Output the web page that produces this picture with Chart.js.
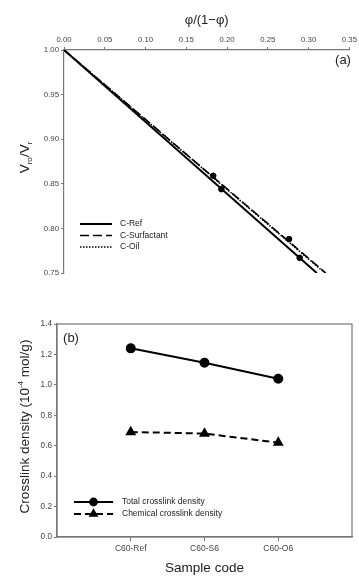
<!DOCTYPE html>
<html>
<head>
<meta charset="utf-8">
<script src="https://cdn.jsdelivr.net/npm/chart.js@4.4.1/dist/chart.umd.min.js"></script>
<style>
  html, body { margin: 0; padding: 0; background: #fff; }
  #wrap { position: relative; width: 359px; height: 578px; }
  .box { position: absolute; left: 0; width: 359px; }
  #topBox { top: 0; height: 290px; }
  #botBox { top: 290px; height: 288px; }
</style>
</head>
<body>
<div id="wrap">
  <div class="box" id="topBox"><canvas id="ratioChart"></canvas></div>
  <div class="box" id="botBox"><canvas id="densityChart"></canvas></div>
</div>
<script>
// --- (a) swelling ratio vs phi/(1-phi) ---
const xTicksA = [0.00, 0.05, 0.10, 0.15, 0.20, 0.25, 0.30, 0.35];
const yTicksA = [0.75, 0.80, 0.85, 0.90, 0.95, 1.00];

const refLineX = [0.000, 0.310];
const refLineY = [1.000, 0.750];
const surfLineX = [0.000, 0.321];
const surfLineY = [1.000, 0.750];
const oilLineX = [0.000, 0.320];
const oilLineY = [1.000, 0.750];

const refPtsX = [0.193, 0.289];
const refPtsY = [0.844, 0.767];
const surfPtsX = [0.183, 0.276];
const surfPtsY = [0.859, 0.788];

// --- (b) crosslink density ---
const samples = ['C60-Ref', 'C60-S6', 'C60-O6'];
const totalDensity = [1.24, 1.145, 1.04];
const chemicalDensity = [0.69, 0.68, 0.62];
const yTicksB = [0.0, 0.2, 0.4, 0.6, 0.8, 1.0, 1.2, 1.4];

const FONT = 'Liberation Sans, Arial, sans-serif';
const AXIS = '#777';
const TXT = '#444';

const pairs = (xs, ys) => xs.map((x, i) => ({ x: x, y: ys[i] }));

// draws a rotated title made of normal / sub / sup pieces
const drawRich = (ctx, parts, cx, cy, size) => {
    ctx.save();
    ctx.translate(cx, cy);
    ctx.rotate(-Math.PI / 2);
    ctx.fillStyle = '#222';
    ctx.textBaseline = 'middle';
    let total = 0;
    parts.forEach(p => {
        const s = p.mode ? size * 0.6 : size;
        ctx.font = s + 'px ' + FONT;
        total += ctx.measureText(p.t).width;
    });
    let x = -total / 2;
    parts.forEach(p => {
        const s = p.mode ? size * 0.6 : size;
        ctx.font = s + 'px ' + FONT;
        const dy = p.mode === 'sub' ? size * 0.32 : (p.mode === 'sup' ? -size * 0.32 : 0);
        ctx.fillText(p.t, x, dy);
        x += ctx.measureText(p.t).width;
    });
    ctx.restore();
};

const decorPlugin = {
    id: 'decor',
    afterDraw(chart, args, opts) {
        const ctx = chart.ctx;
        const a = chart.chartArea;
        if (opts.frame) {
            ctx.save();
            ctx.strokeStyle = AXIS;
            ctx.lineWidth = 1.2;
            ctx.strokeRect(a.left, a.top, a.right - a.left, a.bottom - a.top);
            ctx.restore();
        }
        if (opts.yTitle) {
            drawRich(ctx, opts.yTitle, opts.yTitleX, (a.top + a.bottom) / 2 + (opts.yTitleDy || 0), opts.yTitleSize);
        }
        if (opts.tag) {
            ctx.save();
            ctx.font = '13px ' + FONT;
            ctx.fillStyle = '#222';
            ctx.textAlign = 'center';
            ctx.textBaseline = 'middle';
            ctx.fillText(opts.tag.text, opts.tag.x, opts.tag.y);
            ctx.restore();
        }
        if (opts.legend) {
            const L = opts.legend;
            chart.data.datasets.forEach(ds => {
                if (ds.legendRow === undefined) return;
                const y = a.top + L.top + ds.legendRow * L.rowH;
                const x0 = a.left + L.x0, x1 = a.left + L.x1;
                ctx.save();
                ctx.strokeStyle = '#000';
                ctx.lineWidth = ds.borderWidth;
                ctx.setLineDash(ds.borderDash || []);
                ctx.beginPath();
                ctx.moveTo(x0, y);
                ctx.lineTo(x1, y);
                ctx.stroke();
                ctx.setLineDash([]);
                if (ds.pointRadius > 0) {
                    ctx.fillStyle = '#000';
                    Chart.helpers.drawPoint(ctx, {
                        pointStyle: ds.pointStyle, radius: ds.pointRadius * 0.85,
                        borderWidth: 1, rotation: 0
                    }, (x0 + x1) / 2, y);
                }
                ctx.fillStyle = '#222';
                ctx.font = L.size + 'px ' + FONT;
                ctx.textBaseline = 'middle';
                ctx.fillText(ds.label, a.left + L.tx, y);
                ctx.restore();
            });
        }
    }
};

new Chart(document.getElementById('ratioChart'), {
    type: 'scatter',
    data: {
        datasets: [
            { label: 'C-Ref', data: pairs(refLineX, refLineY), showLine: true, borderColor: '#000', borderWidth: 2, pointRadius: 0, legendRow: 0 },
            { label: 'C-Surfactant', data: pairs(surfLineX, surfLineY), showLine: true, borderColor: '#000', borderWidth: 1.6, borderDash: [9, 4], pointRadius: 0, legendRow: 1 },
            { label: 'C-Oil', data: pairs(oilLineX, oilLineY), showLine: true, borderColor: '#000', borderWidth: 1.6, borderDash: [1.5, 1.5], pointRadius: 0, legendRow: 2 },
            { label: 'ref points', data: pairs(refPtsX, refPtsY), pointRadius: 2.8, pointBackgroundColor: '#000', pointBorderColor: '#000' },
            { label: 'surf points', data: pairs(surfPtsX, surfPtsY), pointRadius: 2.8, pointBackgroundColor: '#000', pointBorderColor: '#000' }
        ]
    },
    options: {
        responsive: true,
        maintainAspectRatio: false,
        animation: false,
        layout: { padding: { top: 0, right: 7, bottom: 17, left: 0 } },
        scales: {
            x: {
                type: 'linear', position: 'top', min: 0, max: 0.35,
                afterBuildTicks: s => { s.ticks = xTicksA.map(v => ({ value: v })); },
                afterFit: s => { s.height = 50; },
                ticks: { callback: v => v.toFixed(2), color: TXT, font: { family: FONT, size: 7.8 }, padding: 2, maxRotation: 0, autoSkip: false },
                grid: { drawOnChartArea: false, drawTicks: true, tickLength: 3, color: AXIS, lineWidth: 1 },
                border: { color: AXIS, width: 1.2 },
                title: { display: true, text: 'φ/(1−φ)', color: '#222', font: { family: FONT, size: 13 }, padding: { top: 13, bottom: 0 } }
            },
            y: {
                min: 0.75, max: 1.0,
                afterBuildTicks: s => { s.ticks = yTicksA.map(v => ({ value: v })); },
                afterFit: s => { s.width = 64; },
                ticks: { callback: v => v.toFixed(2), color: TXT, font: { family: FONT, size: 7.8 }, padding: 2 },
                grid: { drawOnChartArea: false, drawTicks: true, tickLength: 3, color: AXIS, lineWidth: 1 },
                border: { color: AXIS, width: 1.2 }
            }
        },
        plugins: {
            legend: { display: false },
            tooltip: { enabled: false },
            decor: {
                yTitle: [{ t: 'V' }, { t: 'ro', mode: 'sub' }, { t: '/V' }, { t: 'r', mode: 'sub' }],
                yTitleX: 25, yTitleDy: -4, yTitleSize: 13.5,
                tag: { text: '(a)', x: 343, y: 60 },
                legend: { x0: 16, x1: 48, tx: 56, top: 174, rowH: 11.5, size: 8.5 }
            }
        }
    },
    plugins: [decorPlugin]
});

new Chart(document.getElementById('densityChart'), {
    type: 'scatter',
    data: {
        datasets: [
            { label: 'Total crosslink density', data: pairs(samples.map((s, i) => i + 1), totalDensity), showLine: true, borderColor: '#000', borderWidth: 2, pointStyle: 'circle', pointRadius: 4, pointBackgroundColor: '#000', pointBorderColor: '#000', legendRow: 0 },
            { label: 'Chemical crosslink density', data: pairs(samples.map((s, i) => i + 1), chemicalDensity), showLine: true, borderColor: '#000', borderWidth: 2, borderDash: [7, 4], pointStyle: 'triangle', pointRadius: 4.3, pointBackgroundColor: '#000', pointBorderColor: '#000', legendRow: 1 }
        ]
    },
    options: {
        responsive: true,
        maintainAspectRatio: false,
        animation: false,
        layout: { padding: { top: 34, right: 7, bottom: 0, left: 0 } },
        scales: {
            x: {
                type: 'linear', min: 0, max: samples.length + 1,
                afterBuildTicks: s => { s.ticks = samples.map((c, i) => ({ value: i + 1 })); },
                afterFit: s => { s.height = 41; },
                ticks: { callback: v => samples[v - 1] || '', color: TXT, font: { family: FONT, size: 8.5 }, padding: 3, maxRotation: 0, autoSkip: false },
                grid: { drawOnChartArea: false, drawTicks: true, tickLength: 4, color: AXIS, lineWidth: 1 },
                border: { color: AXIS, width: 1.2 },
                title: { display: true, text: 'Sample code', color: '#222', font: { family: FONT, size: 13.5 }, padding: { top: 0, bottom: 2 } }
            },
            y: {
                min: 0, max: 1.4,
                afterBuildTicks: s => { s.ticks = yTicksB.map(v => ({ value: v })); },
                afterFit: s => { s.width = 57; },
                ticks: { callback: v => v.toFixed(1), color: TXT, font: { family: FONT, size: 8.2 }, padding: 2 },
                grid: { drawOnChartArea: false, drawTicks: true, tickLength: 3, color: AXIS, lineWidth: 1 },
                border: { color: AXIS, width: 1.2 }
            }
        },
        plugins: {
            legend: { display: false },
            tooltip: { enabled: false },
            decor: {
                frame: true,
                yTitle: [{ t: 'Crosslink density (10' }, { t: '-4', mode: 'sup' }, { t: ' mol/g)' }],
                yTitleX: 25, yTitleDy: -4, yTitleSize: 13.5,
                tag: { text: '(b)', x: 71, y: 48 },
                legend: { x0: 17, x1: 56, tx: 65, top: 178, rowH: 12, size: 8.5 }
            }
        }
    },
    plugins: [decorPlugin]
});
</script>
</body>
</html>
